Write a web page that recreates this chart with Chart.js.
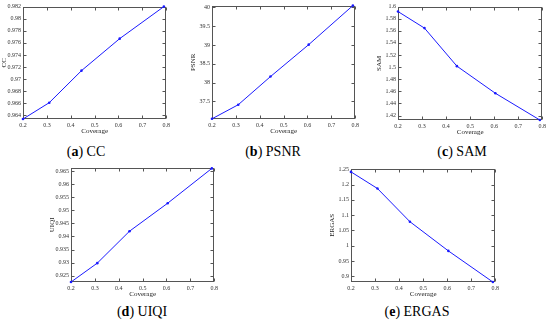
<!DOCTYPE html>
<html>
<head>
<meta charset="utf-8">
<script src="https://cdn.jsdelivr.net/npm/chart.js@4"></script>
<style>
  body { margin: 0; width: 550px; height: 321px; background: #fff; position: relative; overflow: hidden; }
  .panel { position: absolute; }
  .cap { position: absolute; width: 120px; text-align: center; font-family: 'Liberation Serif', serif; font-size: 14px; line-height: 16px; color: #000; }
</style>
</head>
<body>
<script>
// Coverage values (x) shared by every panel
const coverage = [0.2, 0.31, 0.445, 0.605, 0.79];
const xTicks = [0.2, 0.3, 0.4, 0.5, 0.6, 0.7, 0.8];

// Metric values
const ccValues = [0.9634, 0.9661, 0.9714, 0.9767, 0.982];
const psnrValues = [37.035, 37.41, 38.16, 39.01, 40.05];
const samValues = [1.5918, 1.5645, 1.5016, 1.4568, 1.4126];
const uiqiValues = [0.9226, 0.9298, 0.942, 0.9527, 0.966];
const ergasValues = [1.2413, 1.187, 1.0786, 0.9832, 0.8816];

// Y tick labels
const ccTicks = [0.964, 0.966, 0.968, 0.97, 0.972, 0.974, 0.976, 0.978, 0.98, 0.982];
const psnrTicks = [37.5, 38, 38.5, 39, 39.5, 40];
const samTicks = [1.42, 1.44, 1.46, 1.48, 1.5, 1.52, 1.54, 1.56, 1.58, 1.6];
const uiqiTicks = [0.925, 0.93, 0.935, 0.94, 0.945, 0.95, 0.955, 0.96, 0.965];
const ergasTicks = [0.9, 0.95, 1, 1.05, 1.1, 1.15, 1.2, 1.25];

const panels = [
    { letter: 'a', name: 'CC', values: ccValues, ticks: ccTicks, min: 0.9634, max: 0.982, plot: [23, 6, 144, 113], cap: [86, 152] },
    { letter: 'b', name: 'PSNR', values: psnrValues, ticks: psnrTicks, min: 37.03, max: 40.05, plot: [212, 5, 144, 114], cap: [273, 152] },
    { letter: 'c', name: 'SAM', values: samValues, ticks: samTicks, min: 1.4126, max: 1.6, plot: [398, 6, 145, 114], cap: [462, 152] },
    { letter: 'd', name: 'UIQI', values: uiqiValues, ticks: uiqiTicks, min: 0.9226, max: 0.9663, plot: [71, 167, 144, 115], cap: [142, 312] },
    { letter: 'e', name: 'ERGAS', values: ergasValues, ticks: ergasTicks, min: 0.8816, max: 1.252, plot: [351, 168, 145, 114], cap: [417, 312] }
];

const Y_W = 23, X_H = 16, PAD_T = 5, PAD_R = 6;
const fmt = v => String(+(+v).toFixed(4));

// Box around the plot with inward ticks on all four sides
const boxPlugin = {
    id: 'box',
    beforeDatasetsDraw(chart) {
        const { ctx, chartArea: a, scales: { x, y } } = chart;
        const L = Math.round(a.left) + 0.5, R = Math.round(a.right) - 0.5;
        const T = Math.round(a.top) + 0.5, B = Math.round(a.bottom) - 0.5;
        ctx.save();
        ctx.strokeStyle = '#555';
        ctx.lineWidth = 1;
        ctx.strokeRect(L, T, R - L, B - T);
        ctx.beginPath();
        x.ticks.forEach(t => {
            const px = Math.round(x.getPixelForValue(t.value)) + 0.5;
            ctx.moveTo(px, B); ctx.lineTo(px, B - 3);
            ctx.moveTo(px, T); ctx.lineTo(px, T + 3);
        });
        y.ticks.forEach(t => {
            const py = Math.round(y.getPixelForValue(t.value)) + 0.5;
            ctx.moveTo(L, py); ctx.lineTo(L + 3, py);
            ctx.moveTo(R, py); ctx.lineTo(R - 3, py);
        });
        ctx.stroke();
        ctx.restore();
    }
};

panels.forEach(p => {
    const [l, t, w, h] = p.plot;
    const div = document.createElement('div');
    div.className = 'panel';
    div.style.left = (l - Y_W) + 'px';
    div.style.top = (t - PAD_T) + 'px';
    const canvas = document.createElement('canvas');
    canvas.width = w + Y_W + PAD_R;
    canvas.height = h + PAD_T + X_H;
    div.appendChild(canvas);
    document.body.appendChild(div);

    const cap = document.createElement('div');
    cap.className = 'cap';
    cap.style.left = (p.cap[0] - 60) + 'px';
    cap.style.top = (p.cap[1] - 8) + 'px';
    cap.innerHTML = '(<b>' + p.letter + '</b>) ' + p.name;
    document.body.appendChild(cap);

    new Chart(canvas, {
        type: 'line',
        data: {
            datasets: [{
                data: coverage.map((c, i) => ({ x: c, y: p.values[i] })),
                borderColor: '#1a1aff',
                backgroundColor: '#1a1aff',
                borderWidth: 1,
                pointRadius: 1.3,
                pointBorderWidth: 0,
                tension: 0,
                clip: false
            }]
        },
        options: {
            responsive: false,
            animation: false,
            layout: { padding: { left: 0, top: PAD_T, right: PAD_R, bottom: 0 } },
            plugins: { legend: { display: false }, tooltip: { enabled: false } },
            scales: {
                x: {
                    type: 'linear',
                    min: 0.2,
                    max: 0.8,
                    afterBuildTicks: s => { s.ticks = xTicks.map(v => ({ value: v })); },
                    afterFit: s => { s.height = X_H; },
                    grid: { display: false, drawTicks: false },
                    border: { display: false },
                    ticks: { autoSkip: false, padding: 3, color: '#333', maxRotation: 0, font: { family: 'Liberation Serif', size: 6 }, callback: fmt },
                    title: { display: true, text: 'Coverage', color: '#222', padding: 0, font: { family: 'Liberation Serif', size: 7 } }
                },
                y: {
                    min: p.min,
                    max: p.max,
                    afterBuildTicks: s => { s.ticks = p.ticks.map(v => ({ value: v })); },
                    afterFit: s => { s.width = Y_W; },
                    grid: { display: false, drawTicks: false },
                    border: { display: false },
                    ticks: { autoSkip: false, padding: 2, color: '#333', font: { family: 'Liberation Serif', size: 6 }, callback: fmt },
                    title: { display: true, text: p.name, color: '#222', padding: 0, font: { family: 'Liberation Serif', size: 7 } }
                }
            }
        },
        plugins: [boxPlugin]
    });
});
</script>
</body>
</html>
